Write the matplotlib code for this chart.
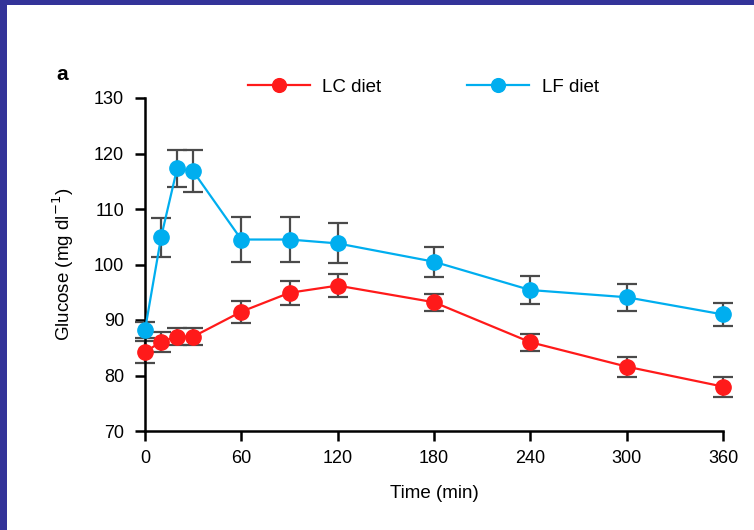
import matplotlib
matplotlib.use("Agg")
import matplotlib.pyplot as plt
from matplotlib.patches import Rectangle

plt.rcParams["font.family"] = ["Liberation Sans", "DejaVu Sans"]

# glucose response over time, mean +/- s.e.m.
time_min = [0, 10, 20, 30, 60, 90, 120, 180, 240, 300, 360]
lc_mean = [84.2, 86.1, 87.0, 87.0, 91.5, 94.9, 96.2, 93.2, 86.0, 81.6, 78.0]
lc_err = [2.0, 1.8, 1.5, 1.5, 2.0, 2.2, 2.0, 1.5, 1.5, 1.8, 1.8]
lf_mean = [88.2, 104.9, 117.3, 116.8, 104.5, 104.5, 103.8, 100.5, 95.4, 94.1, 91.0]
lf_err = [1.5, 3.5, 3.3, 3.8, 4.0, 4.0, 3.6, 2.7, 2.6, 2.4, 2.0]

x_ticks = [0, 60, 120, 180, 240, 300, 360]
y_ticks = [70, 80, 90, 100, 110, 120, 130]

RED = "#ff1a1a"
BLUE = "#00aeef"
FRAME = "#333399"
FS = 13

fig = plt.figure(figsize=(7.54, 5.30), dpi=100)
fig.patch.set_facecolor("white")
# slide frame along top and left edge
fig.patches.append(Rectangle((0, 1 - 5 / 530), 1, 5 / 530, transform=fig.transFigure,
                             facecolor=FRAME, edgecolor="none", zorder=0))
fig.patches.append(Rectangle((0, 0), 7 / 754, 1, transform=fig.transFigure,
                             facecolor=FRAME, edgecolor="none", zorder=0))

ax = fig.add_axes([145 / 754, 1 - 431 / 530, (723 - 145) / 754, (431 - 98) / 530])

for mean, err, col, lab in [(lc_mean, lc_err, RED, "LC diet"),
                            (lf_mean, lf_err, BLUE, "LF diet")]:
    ax.errorbar(time_min, mean, yerr=err, fmt="none", ecolor="#4a4a4a",
                elinewidth=1.6, capsize=7, capthick=1.6, zorder=2, clip_on=False)
    ax.plot(time_min, mean, color=col, lw=1.6, marker="o", markersize=11,
            label=lab, zorder=3, clip_on=False)

ax.set_xlim(0, 360)
ax.set_ylim(70, 130)
ax.set_xticks(x_ticks)
ax.set_yticks(y_ticks)
for s in ["top", "right"]:
    ax.spines[s].set_visible(False)
for s in ["left", "bottom"]:
    ax.spines[s].set_linewidth(1.8)
ax.tick_params(direction="out", length=7, width=1.8, labelsize=FS,
               colors="black")
ax.tick_params(axis="y", pad=8)
ax.tick_params(axis="x", pad=7)
ax.set_xlabel("Time (min)", fontsize=FS + 0.5, labelpad=13)
ax.set_ylabel("Glucose (mg dl$^{-1}$)", fontsize=FS + 0.5, labelpad=13)

fig.text(62 / 754, 1 - 75 / 530, "a", fontsize=FS + 2, fontweight="bold",
         ha="center", va="center")

fig.legend(loc="center left", bbox_to_anchor=(248 / 754, 1 - 87 / 530), ncol=2,
           frameon=False, fontsize=FS + 0.5, handlelength=3.3, handletextpad=0.65,
           columnspacing=4.6, borderpad=0, borderaxespad=0, markerscale=0.9)

fig.savefig("out.png", dpi=100)
